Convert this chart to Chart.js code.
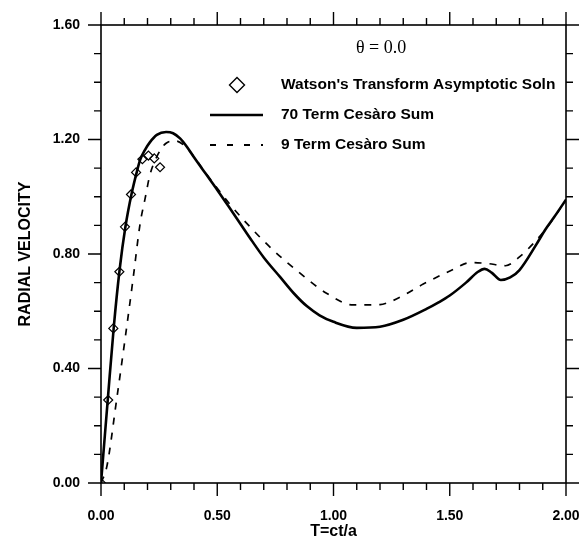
<!DOCTYPE html>
<html>
<head>
<meta charset="utf-8">
<script src="https://cdn.jsdelivr.net/npm/chart.js@4.4.1/dist/chart.umd.min.js"></script>
<style>
  html, body { margin: 0; padding: 0; background: #fff; }
  #wrap { width: 585px; height: 543px; }
</style>
</head>
<body>
<div id="wrap"><canvas id="radialChart" width="585" height="543"></canvas></div>
<script>
// Watson's transform asymptotic solution (diamonds)
const tWatson = [0, 0.031, 0.053, 0.079, 0.103, 0.129, 0.151, 0.178, 0.204, 0.229, 0.254];
const vWatson = [0, 0.29, 0.54, 0.738, 0.895, 1.008, 1.085, 1.131, 1.144, 1.134, 1.103];

// 70 term Cesaro sum (solid)
const t70 = [0, 0.01, 0.03, 0.055, 0.08, 0.105, 0.132, 0.155, 0.168, 0.19, 0.21, 0.24, 0.28, 0.31, 0.34,
  0.37, 0.40, 0.45, 0.50, 0.55, 0.60, 0.65, 0.70, 0.77, 0.83, 0.885, 0.94, 1.00, 1.10, 1.20, 1.30, 1.40,
  1.45, 1.50, 1.57, 1.62, 1.65, 1.68, 1.72, 1.76, 1.80, 1.87, 1.91, 1.95, 2.00];
const v70 = [0, 0.10, 0.30, 0.545, 0.745, 0.895, 1.012, 1.09, 1.128, 1.165, 1.19, 1.216, 1.226, 1.222, 1.204,
  1.174, 1.138, 1.081, 1.024, 0.965, 0.905, 0.845, 0.788, 0.72, 0.662, 0.618, 0.586, 0.563, 0.542, 0.546, 0.57, 0.608,
  0.63, 0.655, 0.70, 0.737, 0.748, 0.735, 0.709, 0.718, 0.744, 0.83, 0.884, 0.93, 0.99];

// 9 term Cesaro sum (dashed)
const t9 = [0, 0.025, 0.067, 0.103, 0.139, 0.168, 0.19, 0.21, 0.24, 0.28, 0.32, 0.36, 0.40, 0.45, 0.50,
  0.55, 0.627, 0.74, 0.856, 0.97, 1.085, 1.2, 1.243, 1.3, 1.386, 1.515, 1.587, 1.66, 1.74, 1.80, 1.86,
  1.91, 1.96, 2.00];
const v9 = [0, 0.057, 0.29, 0.50, 0.72, 0.905, 0.995, 1.075, 1.14, 1.187, 1.195, 1.178, 1.14, 1.083, 1.03,
  0.978, 0.907, 0.814, 0.733, 0.663, 0.622, 0.623, 0.633, 0.655, 0.695, 0.746, 0.77, 0.767, 0.759, 0.79, 0.837,
  0.884, 0.94, 0.99];

const legendLabels = ["Watson's Transform Asymptotic Soln", "70 Term Ces\u00e0ro Sum", "9 Term Ces\u00e0ro Sum"];
const thetaLabel = "\u03b8 = 0.0";

const toPoints = (xs, ys) => xs.map((x, i) => ({ x: x, y: ys[i] }));

const boldFont = "bold 15.5px 'Liberation Sans', Arial, sans-serif";

// frame, tick marks on all four sides and the in-plot legend
const frameAndLegend = {
  id: 'frameAndLegend',
  afterDraw(chart) {
    const { ctx, chartArea: a, scales: { x, y } } = chart;
    ctx.save();
    ctx.strokeStyle = '#000';
    ctx.lineWidth = 1.6;
    ctx.strokeRect(a.left, a.top, a.right - a.left, a.bottom - a.top);

    ctx.lineWidth = 1.4;
    ctx.beginPath();
    for (let i = 0; i <= 20; i++) {
      const px = x.getPixelForValue(i / 10);
      const len = i % 5 === 0 ? 13 : 7;
      ctx.moveTo(px, a.bottom); ctx.lineTo(px, a.bottom + len);
      ctx.moveTo(px, a.top); ctx.lineTo(px, a.top - len);
    }
    for (let i = 0; i <= 16; i++) {
      const py = y.getPixelForValue(i / 10);
      const len = i % 4 === 0 ? 13 : 7;
      ctx.moveTo(a.left, py); ctx.lineTo(a.left - len, py);
      ctx.moveTo(a.right, py); ctx.lineTo(a.right + len, py);
    }
    ctx.stroke();

    // theta label
    ctx.fillStyle = '#000';
    ctx.textBaseline = 'middle';
    ctx.font = "18px 'Liberation Serif', 'Times New Roman', serif";
    ctx.fillText(thetaLabel, 356, 48);

    // legend rows
    ctx.font = boldFont;
    const rowY = [85, 115, 145];
    const textX = 281;
    ctx.lineWidth = 1.4;
    ctx.beginPath();
    ctx.moveTo(237, rowY[0] - 7.5); ctx.lineTo(244.5, rowY[0]);
    ctx.lineTo(237, rowY[0] + 7.5); ctx.lineTo(229.5, rowY[0]);
    ctx.closePath();
    ctx.stroke();
    ctx.lineWidth = 2.4;
    ctx.beginPath(); ctx.moveTo(210, rowY[1]); ctx.lineTo(263, rowY[1]); ctx.stroke();
    ctx.lineWidth = 1.8;
    ctx.setLineDash([6, 11]);
    ctx.beginPath(); ctx.moveTo(210, rowY[2]); ctx.lineTo(263, rowY[2]); ctx.stroke();
    ctx.setLineDash([]);
    legendLabels.forEach((s, i) => ctx.fillText(s, textX, rowY[i]));
    ctx.restore();
  }
};

const ctx = document.getElementById('radialChart').getContext('2d');
const chart = new Chart(ctx, {
  type: 'scatter',
  data: {
    datasets: [
      {
        label: legendLabels[1],
        data: toPoints(t70, v70),
        showLine: true,
        borderColor: '#000',
        borderWidth: 2.6,
        pointRadius: 0,
        cubicInterpolationMode: 'monotone',
      },
      {
        label: legendLabels[2],
        data: toPoints(t9, v9),
        showLine: true,
        borderColor: '#000',
        borderWidth: 1.7,
        borderDash: [7, 8],
        pointRadius: 0,
        cubicInterpolationMode: 'monotone',
      },
      {
        label: legendLabels[0],
        data: toPoints(tWatson, vWatson),
        showLine: false,
        pointStyle: 'rectRot',
        pointRadius: 4.5,
        pointBorderWidth: 1.2,
        pointBorderColor: '#000',
        pointBackgroundColor: 'rgba(255,255,255,0)',
      }
    ]
  },
  options: {
    responsive: false,
    animation: false,
    layout: { padding: { top: 25, right: 19, left: 0, bottom: 0 } },
    plugins: { legend: { display: false }, tooltip: { enabled: false } },
    scales: {
      x: {
        type: 'linear',
        min: 0, max: 2,
        afterFit: (s) => { s.height = 60; s.paddingLeft = 0; s.paddingRight = 0; },
        grid: { display: false, drawTicks: false },
        border: { display: false },
        ticks: {
          stepSize: 0.5,
          padding: 25,
          color: '#000',
          font: { family: "'Liberation Sans', Arial, sans-serif", size: 14, weight: 'bold' },
          callback: (v) => v.toFixed(2),
        },
        title: {
          display: true,
          text: 'T=ct/a',
          color: '#000',
          font: { family: "'Liberation Sans', Arial, sans-serif", size: 16, weight: 'bold' },
          padding: { top: 0, bottom: 2 },
        },
      },
      y: {
        type: 'linear',
        min: 0, max: 1.6,
        afterFit: (s) => { s.width = 101; s.paddingTop = 0; s.paddingBottom = 0; },
        grid: { display: false, drawTicks: false },
        border: { display: false },
        ticks: {
          stepSize: 0.4,
          padding: 21,
          color: '#000',
          font: { family: "'Liberation Sans', Arial, sans-serif", size: 14, weight: 'bold' },
          callback: (v) => v.toFixed(2),
        },
        title: {
          display: true,
          text: 'RADIAL VELOCITY',
          color: '#000',
          font: { family: "'Liberation Sans', Arial, sans-serif", size: 16, weight: 'bold' },
          padding: { top: 16, bottom: 0 },
        },
      },
    },
  },
  plugins: [frameAndLegend],
});
</script>
</body>
</html>
